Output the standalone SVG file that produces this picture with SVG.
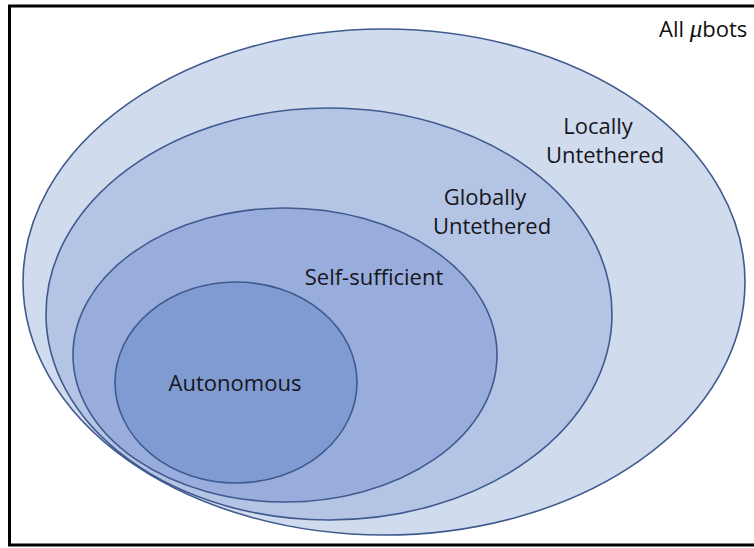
<svg xmlns="http://www.w3.org/2000/svg" width="754" height="548" viewBox="0 0 754 548">
  <style>
    .set { stroke: #3f5a8f; stroke-width: 1.6; }
    .lbl { font-family: "Open Sans", "Liberation Sans", sans-serif; font-size: 22px; fill: #16161c; text-anchor: middle; }
  </style>
  <rect x="0" y="0" width="754" height="548" fill="#ffffff"/>
  <!-- frame -->
  <path d="M9.5,545 L9.5,6 L760,6 M8,545 L760,545" fill="none" stroke="#000" stroke-width="3"/>

  <g id="all-ubots">
    <text x="659" y="37" font-family="'Open Sans', 'Liberation Sans', sans-serif" font-size="22" fill="#111">All <tspan font-family="'Liberation Serif', serif" font-style="italic" font-size="25">μ</tspan>bots</text>
  </g>

  <g id="locally-untethered">
    <ellipse class="set" cx="384" cy="282" rx="361" ry="253" fill="#d0dbee"/>
    <text class="lbl" x="598" y="134">Locally</text>
    <text class="lbl" x="605" y="163">Untethered</text>
  </g>

  <g id="globally-untethered">
    <ellipse class="set" cx="329" cy="314" rx="283" ry="206" fill="#b4c4e4"/>
    <text class="lbl" x="485" y="205">Globally</text>
    <text class="lbl" x="492" y="234">Untethered</text>
  </g>

  <g id="self-sufficient">
    <ellipse class="set" cx="285" cy="355" rx="212" ry="147" fill="#98addb"/>
    <text class="lbl" x="374" y="285">Self-sufficient</text>
  </g>

  <g id="autonomous">
    <ellipse class="set" cx="236" cy="382.5" rx="121" ry="100.5" fill="#809bd1"/>
    <text class="lbl" x="235" y="391">Autonomous</text>
  </g>
</svg>
